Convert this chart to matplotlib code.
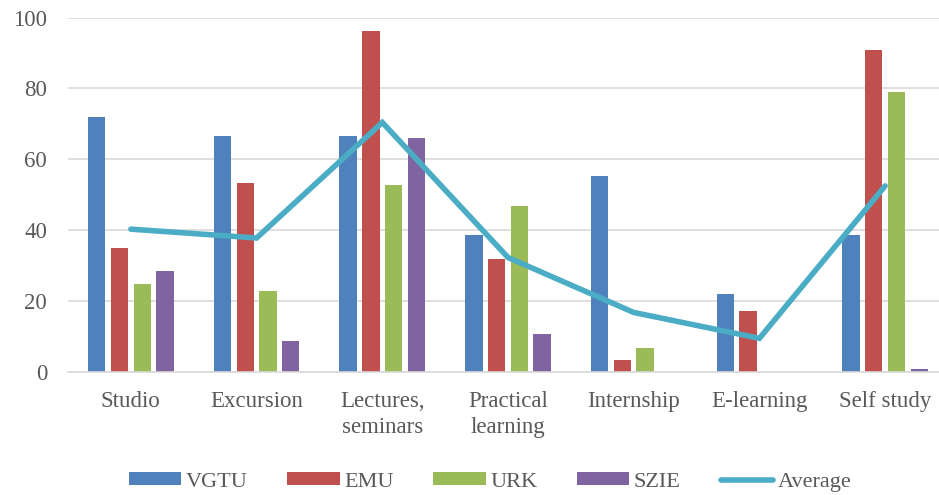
import matplotlib
matplotlib.use("Agg")
import matplotlib.pyplot as plt
import numpy as np

categories = ["Studio", "Excursion", "Lectures,\nseminars", "Practical\nlearning",
              "Internship", "E-learning", "Self study"]
vgtu = [72, 66.5, 66.5, 38.6, 55.4, 22.1, 38.6]
emu = [35.1, 53.2, 96.1, 31.8, 3.4, 17.2, 90.9]
urk = [24.8, 22.9, 52.7, 46.7, 6.8, 0, 78.9]
szie = [28.5, 8.8, 65.9, 10.6, 0, 0, 0.8]
average = [40.3, 37.8, 70.4, 32.3, 16.8, 9.5, 52.5]
series_names = ["VGTU", "EMU", "URK", "SZIE"]
yticks = [0, 20, 40, 60, 80, 100]

colors = ["#4F81BD", "#C0504D", "#9BBB59", "#8064A2"]
line_color = "#4BACC6"
text_color = "#595959"

plt.rcParams['font.family'] = ['Liberation Serif', 'DejaVu Serif']

fig = plt.figure(figsize=(9.39, 4.95), dpi=100)
W, H = 939, 495
left, right, bottom, top = 68, 948, 372, 17.5
ax = fig.add_axes([left / W, (H - bottom) / H, (right - left) / W, (bottom - top) / H])

x = np.arange(len(categories))
slot = 0.181
bw = 0.138
for i, (vals, c, name) in enumerate(zip([vgtu, emu, urk, szie], colors, series_names)):
    ax.bar(x + (i - 1.5) * slot, vals, width=bw, color=c, label=name, zorder=2)
ax.plot(x, average, color=line_color, lw=4, label="Average", zorder=3,
        solid_capstyle='round', solid_joinstyle='miter')

ax.set_xlim(-0.5, len(categories) - 0.5)
ax.set_ylim(0, 100)
ax.set_yticks(yticks)
ax.set_xticks(x)
ax.set_xticklabels(categories, linespacing=1.3)
ax.grid(axis='y', color='#D9D9D9', lw=1.2, zorder=0)
ax.set_axisbelow(True)
for s in ['top', 'right', 'left']:
    ax.spines[s].set_visible(False)
ax.spines['bottom'].set_color('#D9D9D9')
ax.spines['bottom'].set_linewidth(1.2)
ax.tick_params(axis='both', length=0, labelsize=16.5, colors=text_color)
ax.tick_params(axis='x', pad=14)
ax.tick_params(axis='y', pad=15)

handles, labels = ax.get_legend_handles_labels()
order = [1, 2, 3, 4, 0]
leg = fig.legend([handles[i] for i in order], [labels[i] for i in order],
                 loc='center', bbox_to_anchor=(490 / W, 1 - 482 / H), ncol=5, frameon=False,
                 fontsize=16, handlelength=2.35, handleheight=0.5, columnspacing=1.8,
                 handletextpad=0.2)
for t in leg.get_texts():
    t.set_color(text_color)

fig.savefig("out.png", dpi=100)
